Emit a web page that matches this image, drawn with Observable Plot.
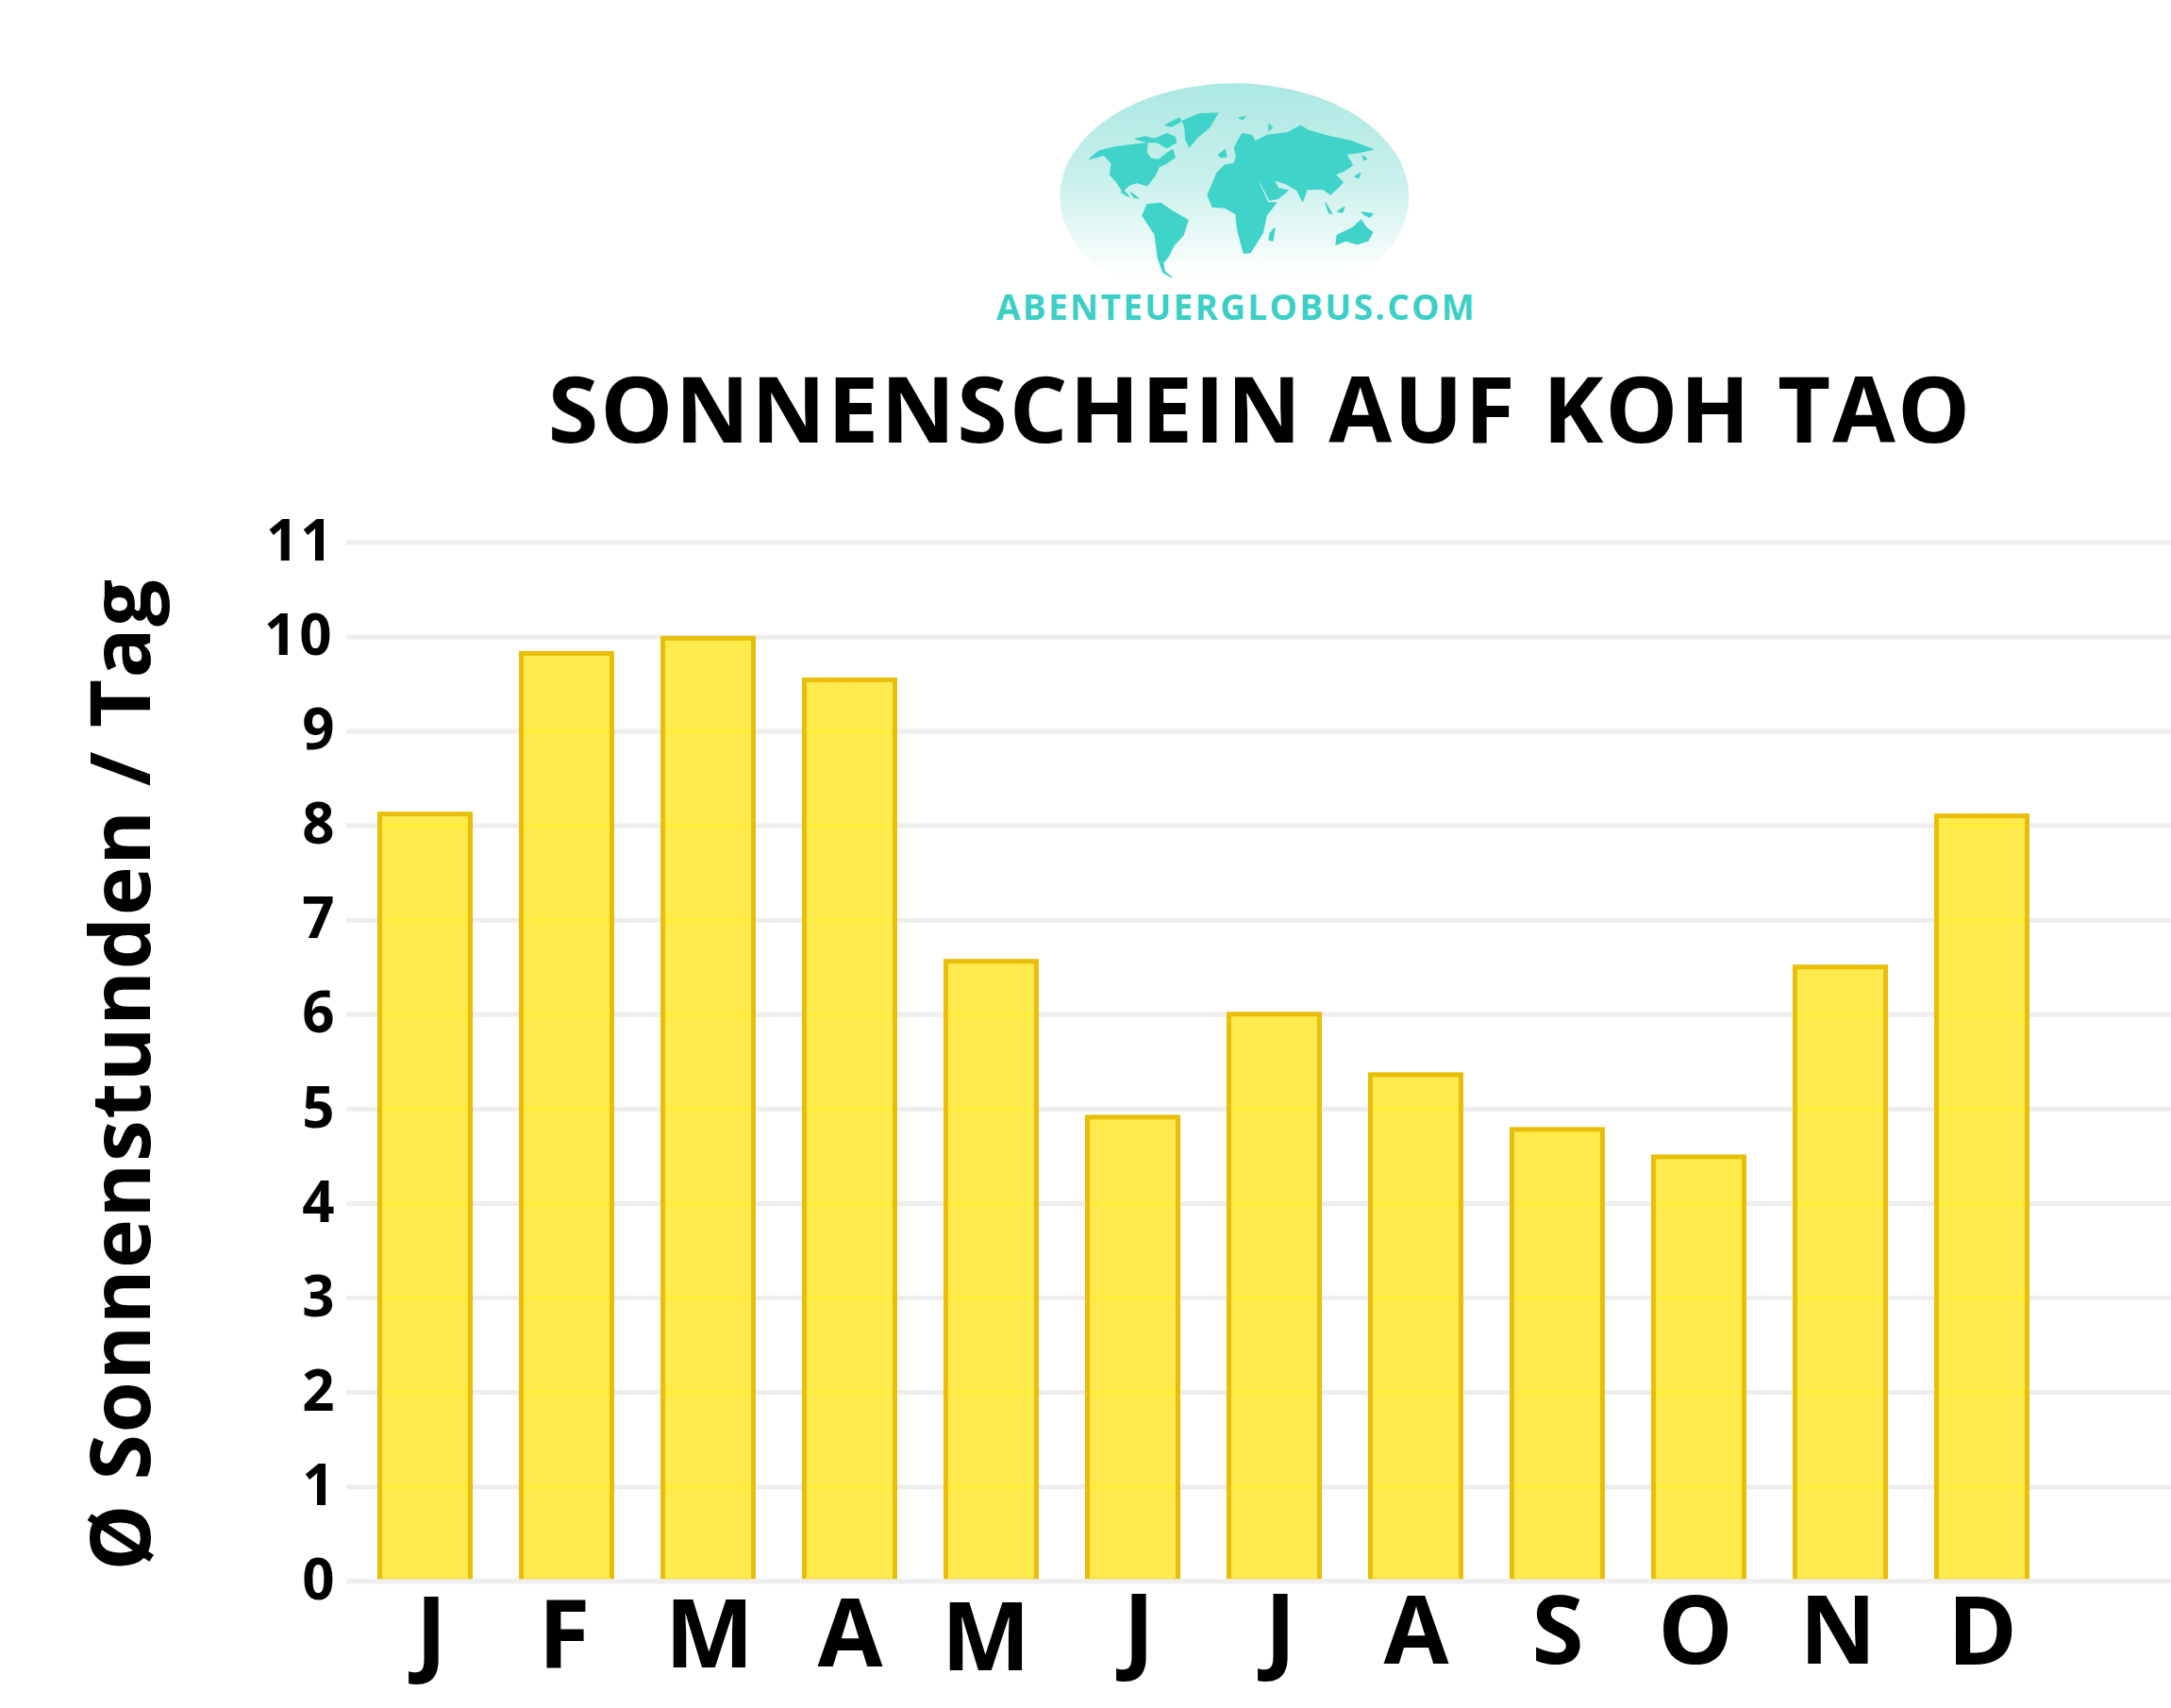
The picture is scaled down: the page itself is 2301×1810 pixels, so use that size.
<!DOCTYPE html>
<html lang="de">
<head>
<meta charset="utf-8">
<title>Sonnenschein auf Koh Tao</title>
<script src="https://cdn.jsdelivr.net/npm/d3@7"></script>
<script src="https://cdn.jsdelivr.net/npm/@observablehq/plot@0.6"></script>
<style>html,body{margin:0;padding:0;background:#fff}svg{display:block}</style>
</head>
<body>
<div id="chart"></div>
<script>
const months = ["Jan","Feb","Mär","Apr","Mai","Jun","Jul","Aug","Sep","Okt","Nov","Dez"];
const monthLetters = ["J","F","M","A","M","J","J","A","S","O","N","D"];
const sunHours = [8.12,9.82,9.98,9.54,6.56,4.91,6.00,5.36,4.78,4.49,6.50,8.10];
const yTicks = [0,1,2,3,4,5,6,7,8,9,10,11];
const titleText = "SONNENSCHEIN AUF KOH TAO";
const yLabelText = "Ø Sonnenstunden / Tag";
const brandText = "ABENTEUERGLOBUS.COM";

const rows = months.map((m,i)=>({month:m,hours:sunHours[i]}));
const tintRows = rows.flatMap(r=>yTicks.filter(t=>t>0&&t<r.hours).map(t=>({month:r.month,tick:t})));

const font = "'Open Sans', sans-serif";
const W = 2301, H = 1810;

// Hand placement of the month letters in the original artwork
const letterNudges = [[6,-3],[-3,0],[1,0],[0,-1],[-6,3],[6,-6],[6,-6],[0,-4],[0,-4],[-4,-4],[-3,-4],[0,-3]];

// Decorative logo, traced in a local coordinate system
const landPaths = [
 "M315,325 L345,300 L395,288 L440,282 L498,275 L495,305 L510,325 L535,328 L555,312 L578,296 L586,320 L560,338 L535,350 L522,378 L497,410 L465,400 L440,408 L420,428 L400,398 L380,375 L385,340 L360,312 L335,320Z",
 "M460,262 L490,255 L520,262 L560,245 L585,255 L590,272 L560,290 L530,272 L500,272Z",
 "M555,218 L600,195 L605,205 L575,222Z",
 "M610,205 L660,183 L722,180 L695,225 L655,258 L632,287 L620,262 L618,225Z",
 "M415,430 L425,428 L440,445 L430,440Z M445,432 L470,450 L455,447Z",
 "M483,505 L498,470 L540,466 L575,490 L627,520 L612,568 L582,600 L565,635 L548,655 L552,682 L575,702 L548,685 L532,640 L522,565Z",
 "M775,290 L800,245 L830,250 L840,270 L880,250 L945,242 L985,220 L1010,235 L1080,255 L1150,270 L1215,295 L1170,305 L1130,310 L1150,345 L1120,365 L1095,375 L1120,400 L1100,420 L1080,438 L1055,420 L1005,422 L992,460 L975,425 L935,402 L900,392 L915,420 L945,425 L915,450 L887,456 L858,400 L850,397 L870,440 L882,465 L907,465 L876,505 L865,560 L840,600 L825,623 L805,625 L785,550 L780,500 L745,480 L705,477 L690,440 L720,370 L745,345 L775,340 L782,315Z",
 "M888,562 L903,545 L897,585 L885,582Z",
 "M1098,598 L1102,568 L1150,545 L1178,520 L1195,545 L1214,558 L1200,585 L1165,596 L1130,585Z",
 "M1180,495 L1215,500 L1205,510 L1190,503Z",
 "M1065,465 L1085,500 L1075,495Z M1103,492 L1125,478 L1118,495Z",
 "M1158,382 L1175,370 L1170,385Z M1183,315 L1195,325 L1188,330Z",
 "M725,312 L745,296 L750,318 L732,320Z M790,195 L810,190 L800,200Z M885,215 L895,225 L885,235Z"
];
function logoMark() {
  const ns = "http://www.w3.org/2000/svg";
  const g = document.createElementNS(ns,"g");
  g.setAttribute("transform","translate(1050,60) scale(0.33333)");
  g.innerHTML = `
  <defs>
    <linearGradient id="globeGrad" x1="0" x2="0" y1="0" y2="1">
      <stop offset="0" stop-color="#ACE8E3"/>
      <stop offset="0.42" stop-color="#C9F0EC"/>
      <stop offset="0.85" stop-color="#FFFFFF"/>
      <stop offset="1" stop-color="#FFFFFF"/>
    </linearGradient>
  </defs>
  <ellipse cx="775" cy="445" rx="555" ry="360" fill="url(#globeGrad)"/>
  ${landPaths.map(d=>`<path d="${d}" fill="#3FD3C9" stroke="#3FD3C9" stroke-width="4" stroke-linejoin="round"/>`).join("")}`;
  return g;
}

const plot = Plot.plot({
  width: W, height: H,
  marginLeft: 367, marginRight: 0, marginTop: 574.3, marginBottom: H-1675.3,
  style: {background:"#fff", fontFamily: font, overflow:"visible"},
  x: {domain: months, range:[348.5,2202.5], padding:0.36, align:0.5, round:false, label:null},
  y: {domain:[0,11], range:[1675.3,574.3], label:null},
  marks: [
    logoMark,
    Plot.ruleY(yTicks,{y:d=>d,stroke:"#EEEEEE",strokeWidth:5}),
    Plot.barY(rows,{x:"month",y:"hours",fill:"#FFEB4E",stroke:"#E9BE0B",strokeWidth:5}),
    Plot.tickY(tintRows,{x:"month",y:"tick",stroke:"#FFEC3C",strokeWidth:5,insetLeft:2.5,insetRight:2.5}),
    Plot.ruleY([0],{stroke:"#EEEEEE",strokeWidth:5}),
    Plot.axisY({ticks:yTicks,tickSize:0,tickPadding:13,fontSize:60,fontWeight:700,fill:"#000",label:null,tickFormat:d=>String(d)}),
    Plot.axisX({tickSize:0,tickPadding:20,fontSize:100,fontWeight:700,fill:"#000",label:null,tickFormat:d=>monthLetters[months.indexOf(d)]}),
    Plot.text([titleText],{frameAnchor:"top-left",dx:1335-367,dy:468-574.3,text:d=>d,lineAnchor:"bottom",textAnchor:"middle",fontSize:97,fontWeight:700,fill:"#000"}),
    Plot.text([brandText],{frameAnchor:"top-left",dx:1310-367,dy:338-574.3,text:d=>d,lineAnchor:"bottom",textAnchor:"middle",fontSize:37,fontWeight:700,fill:"#3CCFC6"}),
    Plot.text([yLabelText],{frameAnchor:"top-left",dx:158-367,dy:1138-574.3,text:d=>d,rotate:-90,lineAnchor:"bottom",textAnchor:"middle",fontSize:88,fontWeight:700,fill:"#000"})
  ]
});
document.getElementById("chart").appendChild(plot);

const spacing = {[titleText]:"2px",[brandText]:"2.3px",[yLabelText]:"1.5px",["10"]:"3px",["11"]:"2px"};
d3.select(plot).selectAll("text").each(function(){
  const s = spacing[this.textContent];
  if (s) this.style.letterSpacing = s;
});
const xLabels = [...plot.querySelectorAll("text")].filter(t=>monthLetters.includes(t.textContent));
xLabels.forEach((t,i)=>{
  const [dx,dy] = letterNudges[i];
  t.setAttribute("transform",`translate(${dx},${dy}) ${t.getAttribute("transform")||""}`);
});
</script>
</body>
</html>
